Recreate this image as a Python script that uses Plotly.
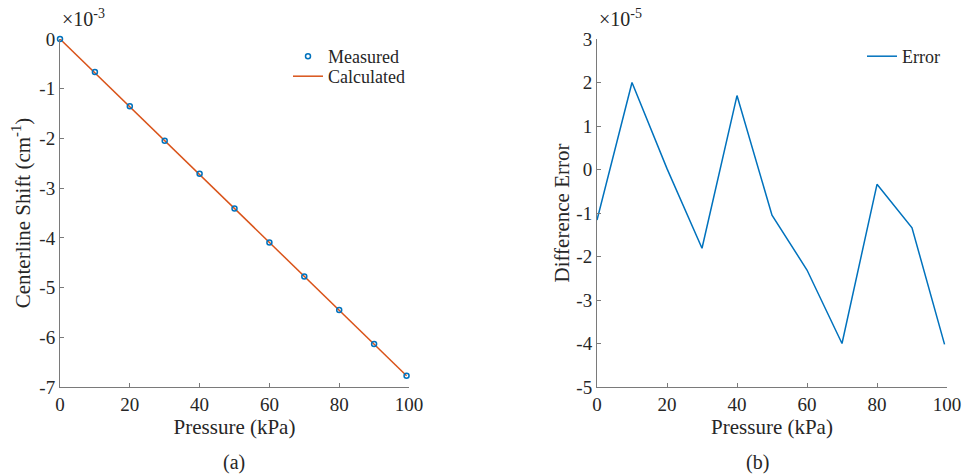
import plotly.graph_objects as go

# ---- data ----
pressure = [0, 10, 20, 30, 40, 50, 60, 70, 80, 90, 99.3]
measured = [0.0, -0.6646e-3, -1.3517e-3, -2.0469e-3, -2.7105e-3, -3.4081e-3,
            -4.0938e-3, -4.7765e-3, -5.4500e-3, -6.1349e-3, -6.7744e-3]
calculated = [0.0, -0.6820e-3, -1.3640e-3, -2.0460e-3, -2.7280e-3, -3.4100e-3,
              -4.0920e-3, -4.7740e-3, -5.4560e-3, -6.1380e-3, -6.7720e-3]
error = [-1.16e-5, 2.00e-5, 0.02e-5, -1.81e-5, 1.70e-5, -1.05e-5,
         -2.31e-5, -4.00e-5, -0.34e-5, -1.34e-5, -4.02e-5]

x_ticks = [0, 20, 40, 60, 80, 100]
x_ticktext = ["0", "20", "40", "60", "80", "100"]
left_ticks = [0, -1e-3, -2e-3, -3e-3, -4e-3, -5e-3, -6e-3, -7e-3]
left_ticktext = ["0", "-1", "-2", "-3", "-4", "-5", "-6", "-7"]
right_ticks = [3e-5, 2e-5, 1e-5, 0, -1e-5, -2e-5, -3e-5, -4e-5, -5e-5]
right_ticktext = ["3", "2", "1", "0", "-1", "-2", "-3", "-4", "-5"]

FONT = "Liberation Serif, Times New Roman, serif"
TXT = "#262626"
AX = "#7a7a7a"
BLUE = "#0072BD"
ORANGE = "#D95319"

fig = go.Figure()
fig.add_trace(go.Scatter(x=pressure, y=calculated, mode="lines", name="Calculated",
                         line=dict(color=ORANGE, width=1.5), xaxis="x", yaxis="y",
                         legend="legend3"))
fig.add_trace(go.Scatter(x=pressure, y=measured, mode="markers", name="Measured",
                         marker=dict(symbol="circle-open", size=5, color=BLUE,
                                     line=dict(width=1.5, color=BLUE)),
                         xaxis="x", yaxis="y", legend="legend",
                         cliponaxis=False))
fig.add_trace(go.Scatter(x=pressure, y=error, mode="lines", name="Error",
                         line=dict(color=BLUE, width=1.5), xaxis="x2", yaxis="y2",
                         legend="legend2", cliponaxis=False))

W, H = 963, 475
ydom = [1 - 387 / H, 1 - 39 / H]

axis_common = dict(showline=True, linecolor=AX, linewidth=1, ticks="inside",
                   ticklen=4, tickcolor=AX, showgrid=False, zeroline=False,
                   automargin=False,
                   tickfont=dict(family=FONT, size=19, color=TXT))
TFONT = dict(size=21, family=FONT, color=TXT)
LFONT = dict(family=FONT, size=18, color=TXT)

fig.update_layout(
    width=W, height=H, margin=dict(l=0, r=0, t=0, b=0),
    paper_bgcolor="white", plot_bgcolor="white",
    font=dict(family=FONT, color=TXT),
    xaxis=dict(domain=[60 / W, 409 / W], range=[0, 100], anchor="y",
               tickvals=x_ticks, ticktext=x_ticktext,
               title=dict(text="Pressure (kPa)", font=TFONT, standoff=2),
               **axis_common),
    yaxis=dict(domain=ydom, range=[-7e-3, 0], anchor="x",
               tickvals=left_ticks, ticktext=left_ticktext,
               title=dict(text="Centerline Shift (cm<sup>-1</sup>)", font=TFONT, standoff=3),
               **axis_common),
    xaxis2=dict(domain=[597 / W, 947 / W], range=[0, 100], anchor="y2",
                tickvals=x_ticks, ticktext=x_ticktext,
                title=dict(text="Pressure (kPa)", font=TFONT, standoff=2),
                **axis_common),
    yaxis2=dict(domain=ydom, range=[-5e-5, 3e-5], anchor="x2",
                tickvals=right_ticks, ticktext=right_ticktext,
                title=dict(text="Difference Error", font=TFONT, standoff=1),
                **axis_common),
    legend=dict(x=288 / W, y=1 - 38 / H, xanchor="left", yanchor="top",
                bgcolor="rgba(0,0,0,0)", font=LFONT, itemwidth=30),
    legend3=dict(x=288 / W, y=1 - 58 / H, xanchor="left", yanchor="top",
                 bgcolor="rgba(0,0,0,0)", font=LFONT, itemwidth=30),
    legend2=dict(x=862 / W, y=1 - 38 / H, xanchor="left", yanchor="top",
                 bgcolor="rgba(0,0,0,0)", font=LFONT, itemwidth=30),
    showlegend=True,
)

annots = [
    dict(text="\u00d710<sup>-3</sup>", x=60 / W, y=1 - 32 / H, xanchor="left", yanchor="bottom"),
    dict(text="\u00d710<sup>-5</sup>", x=597 / W, y=1 - 32 / H, xanchor="left", yanchor="bottom"),
    dict(text="(a)", x=234 / W, y=1 - 462 / H, xanchor="center", yanchor="middle"),
    dict(text="(b)", x=757 / W, y=1 - 462 / H, xanchor="center", yanchor="middle"),
]
for a in annots:
    fig.add_annotation(xref="paper", yref="paper", showarrow=False,
                       font=dict(family=FONT, size=20, color=TXT), **a)

fig.write_html("out.html")
